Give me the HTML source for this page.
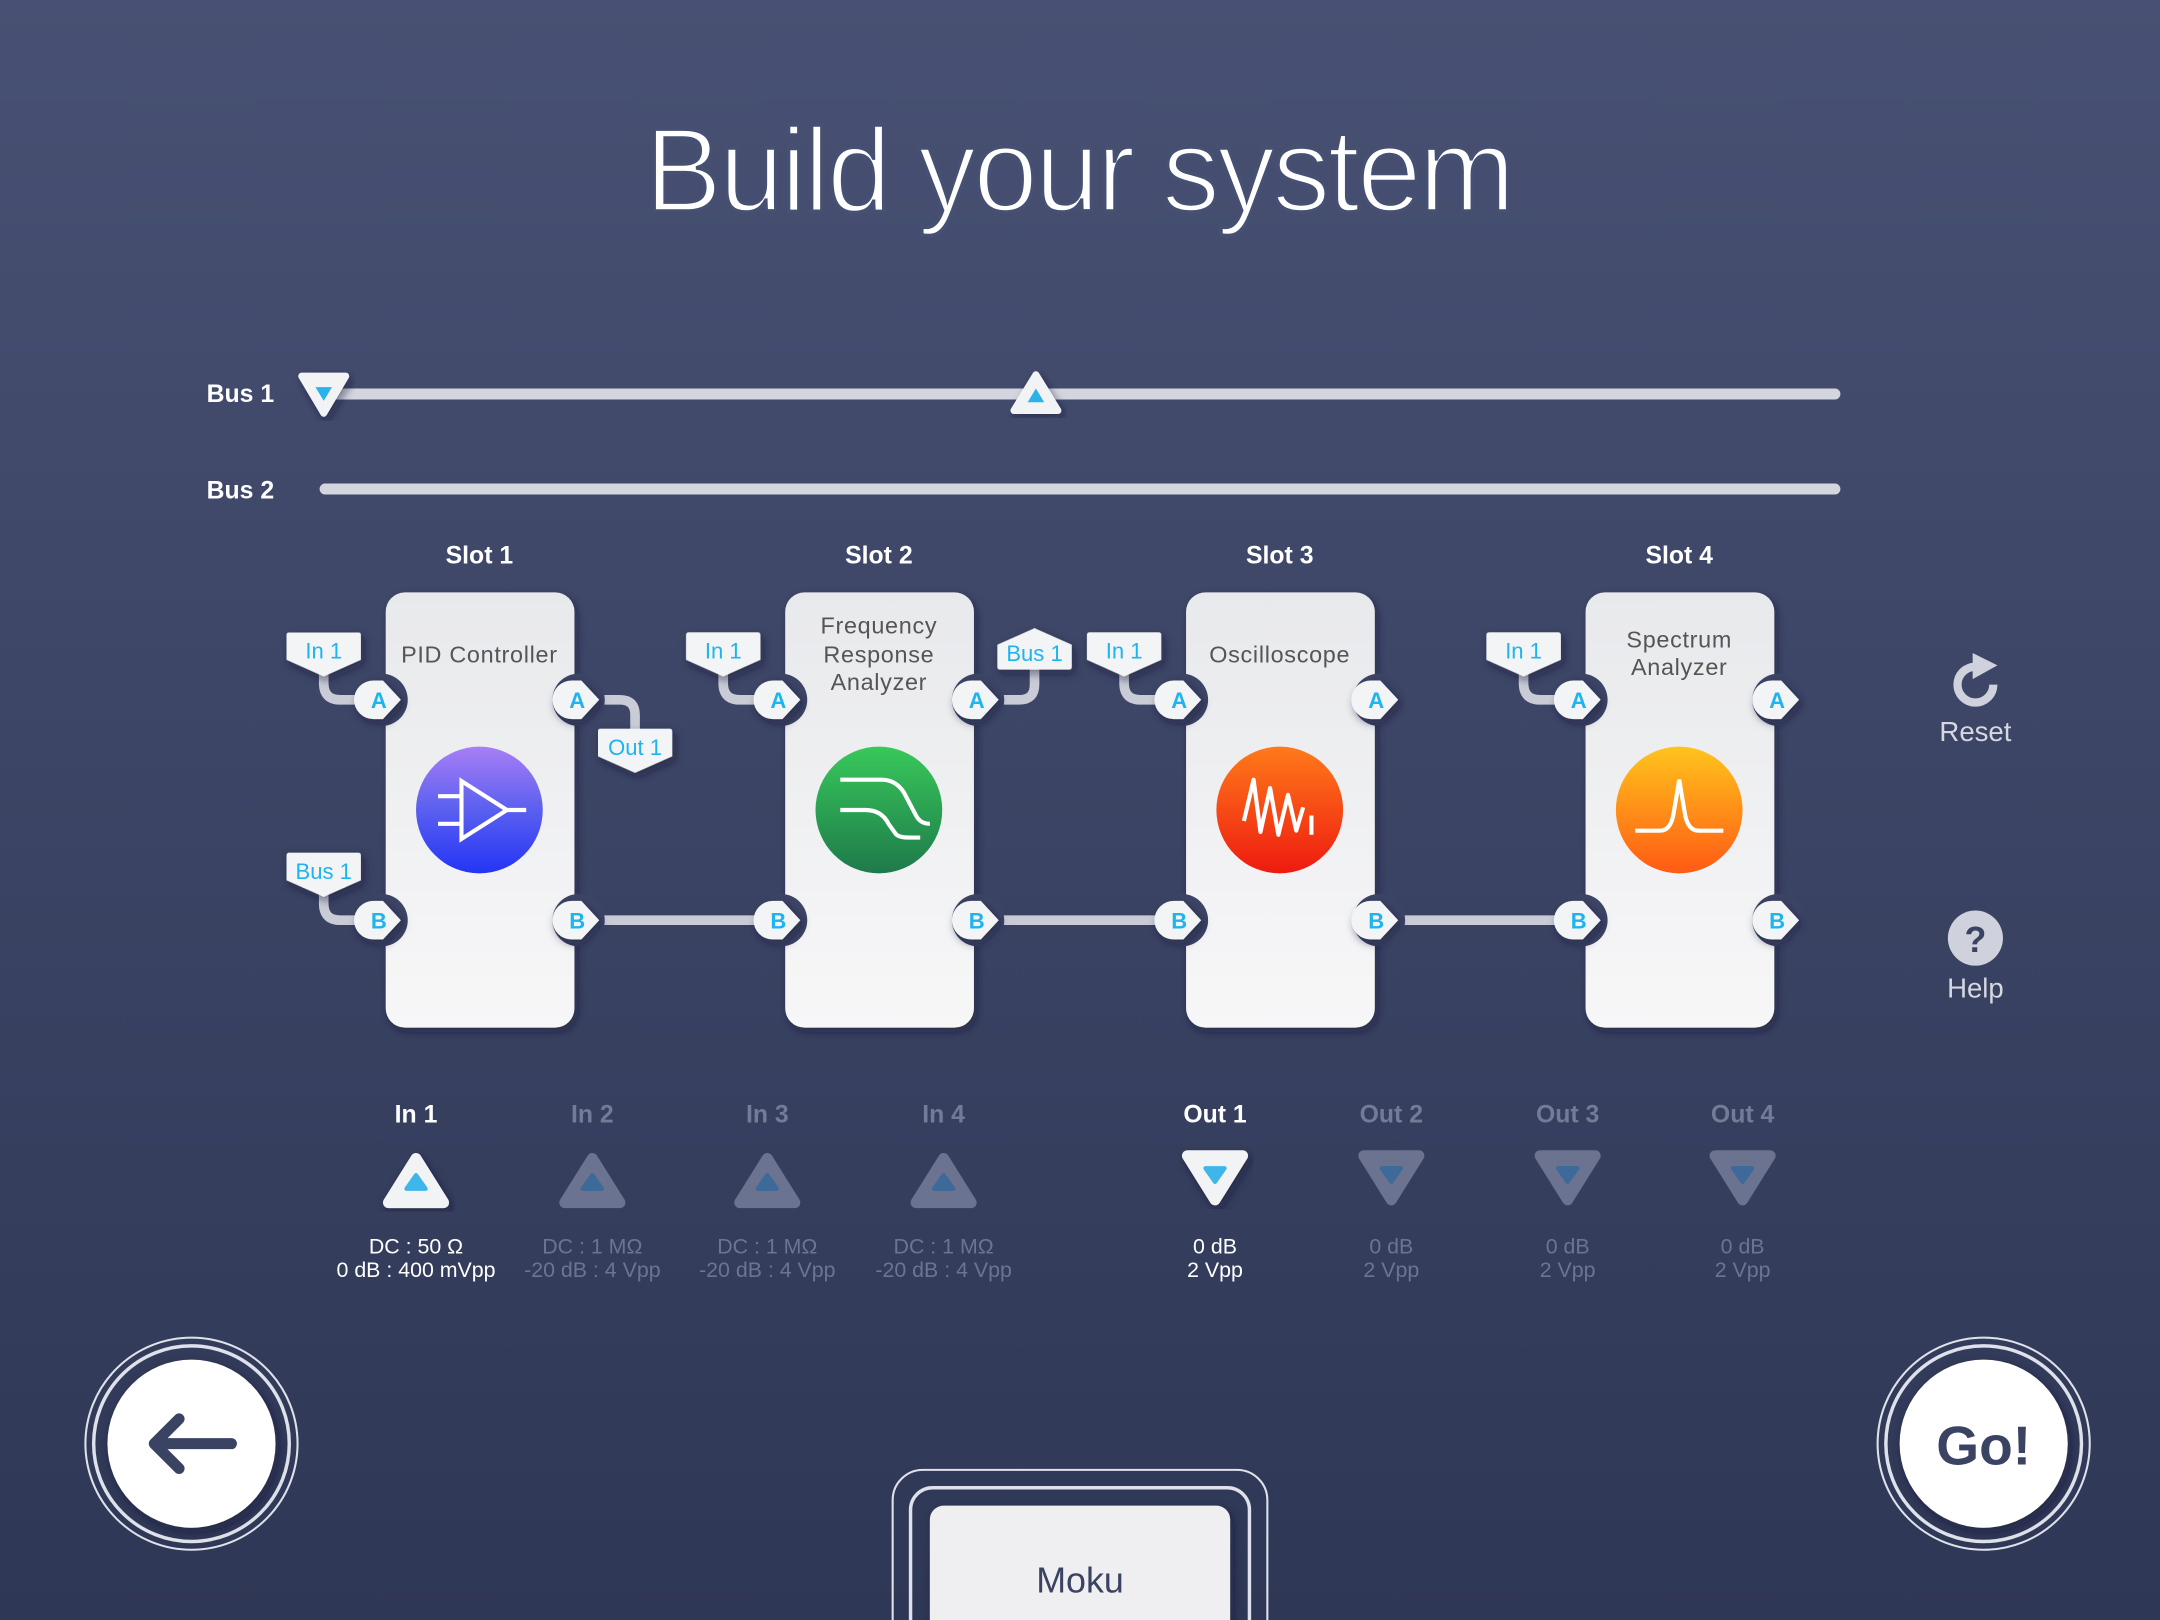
<!DOCTYPE html>
<html><head><meta charset="utf-8"><style>
html,body{margin:0;padding:0;width:2160px;height:1620px;overflow:hidden;background:#3d4565}
svg{display:block}
text{font-family:"Liberation Sans",sans-serif}
</style></head><body>
<svg width="2160" height="1620" viewBox="0 0 1568 1176" xmlns="http://www.w3.org/2000/svg">
<defs>
<linearGradient id="bg" x1="0" y1="0" x2="0" y2="1"><stop offset="0" stop-color="#485173"/><stop offset="1" stop-color="#2f3756"/></linearGradient>
<linearGradient id="card" x1="0" y1="0" x2="0" y2="1"><stop offset="0" stop-color="#e8e9ec"/><stop offset="1" stop-color="#f7f7f8"/></linearGradient>
<linearGradient id="g1" x1="0" y1="0" x2="0" y2="1"><stop offset="0" stop-color="#a77ef5"/><stop offset="0.5" stop-color="#5a5ff0"/><stop offset="1" stop-color="#2434f5"/></linearGradient>
<linearGradient id="g2" x1="0" y1="0" x2="0" y2="1"><stop offset="0" stop-color="#38c85a"/><stop offset="1" stop-color="#1e7a4a"/></linearGradient>
<linearGradient id="g3" x1="0" y1="0" x2="0" y2="1"><stop offset="0" stop-color="#ff7a1a"/><stop offset="1" stop-color="#ee1a10"/></linearGradient>
<linearGradient id="g4" x1="0" y1="0" x2="0" y2="1"><stop offset="0" stop-color="#ffc41c"/><stop offset="1" stop-color="#ff5a14"/></linearGradient>
<filter id="sh" x="-20%" y="-20%" width="140%" height="140%"><feDropShadow dx="2" dy="3" stdDeviation="3" flood-color="#121830" flood-opacity="0.5"/></filter>
<path id="port" d="M-4,-14 H3 L16,0 L3,14 H-4 A14,14 0 0 1 -4,-14 Z"/>
<path id="tagd" d="M-25,-13 H25 Q27,-13 27,-11 V7 L0,19 L-27,7 V-11 Q-27,-13 -25,-13 Z"/>
<path id="tagu" d="M-25,13 H25 Q27,13 27,11 V-5 L0,-17 L-27,-5 V11 Q-27,13 -25,13 Z"/>
</defs>
<rect width="1568" height="1176" fill="url(#bg)"/>
<text x="783" y="153" text-anchor="middle" font-size="86" fill="#fff" stroke="#465072" stroke-width="2.5" letter-spacing="-2" textLength="630" lengthAdjust="spacingAndGlyphs">Build your system</text>

<!-- buses -->
<text x="199" y="292" text-anchor="end" font-size="18" font-weight="bold" fill="#fff">Bus 1</text>
<text x="199" y="362" text-anchor="end" font-size="18" font-weight="bold" fill="#fff">Bus 2</text>
<rect x="232" y="282" width="1104" height="8" rx="4" fill="#d3d6de"/>
<rect x="232" y="351" width="1104" height="8" rx="4" fill="#d3d6de"/>
<path d="M219,273 H251 L235,300 Z" fill="#f2f3f5" stroke="#f2f3f5" stroke-width="5" stroke-linejoin="round" filter="url(#sh)"/>
<path d="M229,281 H241 L235,291 Z" fill="#2ab3ea"/>
<path d="M736,298 H768 L752,272 Z" fill="#f2f3f5" stroke="#f2f3f5" stroke-width="5" stroke-linejoin="round" filter="url(#sh)"/>
<path d="M746,292 H758 L752,282 Z" fill="#2ab3ea"/>

<!-- slot labels -->
<g font-size="18" font-weight="bold" fill="#fff" text-anchor="middle">
<text x="348" y="409">Slot 1</text><text x="638" y="409">Slot 2</text><text x="929" y="409">Slot 3</text><text x="1219" y="409">Slot 4</text>
</g>

<!-- connectors -->
<g stroke="#c9ccd6" stroke-width="7" fill="none" stroke-linecap="round">
<path d="M419,668 H565"/><path d="M709,668 H856"/><path d="M999,668 H1146"/>
<path d="M235,488 V496 Q235,508 247,508 H268"/>
<path d="M235,648 V656 Q235,668 247,668 H268"/>
<path d="M425,508 H450 Q461,508 461,519 V530"/>
<path d="M525,488 V496 Q525,508 537,508 H558"/>
<path d="M715,508 H740 Q751,508 751,497 V486"/>
<path d="M816,488 V496 Q816,508 828,508 H849"/>
<path d="M1106,488 V496 Q1106,508 1118,508 H1139"/>
</g>

<!-- cards -->
<g filter="url(#sh)">
<rect x="280" y="430" width="137" height="316" rx="14" fill="url(#card)"/>
<rect x="570" y="430" width="137" height="316" rx="14" fill="url(#card)"/>
<rect x="861" y="430" width="137" height="316" rx="14" fill="url(#card)"/>
<rect x="1151" y="430" width="137" height="316" rx="14" fill="url(#card)"/>
</g>
<!-- notches -->
<g fill="#3c4465">
<circle cx="277" cy="508" r="19"/><circle cx="277" cy="668" r="19"/><circle cx="420" cy="508" r="19"/><circle cx="420" cy="668" r="19"/>
<circle cx="567" cy="508" r="19"/><circle cx="567" cy="668" r="19"/><circle cx="710" cy="508" r="19"/><circle cx="710" cy="668" r="19"/>
<circle cx="858" cy="508" r="19"/><circle cx="858" cy="668" r="19"/><circle cx="1001" cy="508" r="19"/><circle cx="1001" cy="668" r="19"/>
<circle cx="1148" cy="508" r="19"/><circle cx="1148" cy="668" r="19"/><circle cx="1291" cy="508" r="19"/><circle cx="1291" cy="668" r="19"/>
</g>
<!-- ports -->
<g fill="#f3f4f6" filter="url(#sh)">
<use href="#port" x="275" y="508"/><use href="#port" x="275" y="668"/><use href="#port" x="419" y="508"/><use href="#port" x="419" y="668"/>
<use href="#port" x="565" y="508"/><use href="#port" x="565" y="668"/><use href="#port" x="709" y="508"/><use href="#port" x="709" y="668"/>
<use href="#port" x="856" y="508"/><use href="#port" x="856" y="668"/><use href="#port" x="999" y="508"/><use href="#port" x="999" y="668"/>
<use href="#port" x="1146" y="508"/><use href="#port" x="1146" y="668"/><use href="#port" x="1290" y="508"/><use href="#port" x="1290" y="668"/>
</g>
<g font-size="16" font-weight="bold" fill="#1eb4f0" text-anchor="middle">
<text x="275" y="514">A</text><text x="275" y="674">B</text><text x="419" y="514">A</text><text x="419" y="674">B</text>
<text x="565" y="514">A</text><text x="565" y="674">B</text><text x="709" y="514">A</text><text x="709" y="674">B</text>
<text x="856" y="514">A</text><text x="856" y="674">B</text><text x="999" y="514">A</text><text x="999" y="674">B</text>
<text x="1146" y="514">A</text><text x="1146" y="674">B</text><text x="1290" y="514">A</text><text x="1290" y="674">B</text>
</g>
<!-- tags -->
<g fill="#f3f4f6" filter="url(#sh)">
<use href="#tagd" x="235" y="472"/><use href="#tagd" x="235" y="632"/><use href="#tagd" x="461" y="542"/>
<use href="#tagd" x="525" y="472"/><use href="#tagu" x="751" y="473"/><use href="#tagd" x="816" y="472"/><use href="#tagd" x="1106" y="472"/>
</g>
<g font-size="16" fill="#1eb4f0" text-anchor="middle">
<text x="235" y="478">In 1</text><text x="235" y="638">Bus 1</text><text x="461" y="548">Out 1</text>
<text x="525" y="478">In 1</text><text x="751" y="480">Bus 1</text><text x="816" y="478">In 1</text><text x="1106" y="478">In 1</text>
</g>
<!-- card titles -->
<g font-size="17" fill="#555" text-anchor="middle" letter-spacing="0.5">
<text x="348" y="481">PID Controller</text>
<text x="638" y="460">Frequency</text><text x="638" y="481">Response</text><text x="638" y="501">Analyzer</text>
<text x="929" y="481">Oscilloscope</text>
<text x="1219" y="470">Spectrum</text><text x="1219" y="490">Analyzer</text>
</g>
<!-- icons -->
<circle cx="348" cy="588" r="46" fill="url(#g1)"/>
<g stroke="#fff" stroke-width="3" fill="none"><path d="M335,567 V609 L368,588 Z"/><path d="M318,578 H335 M318,598 H335 M368,588 H382"/></g>
<circle cx="638" cy="588" r="46" fill="url(#g2)"/>
<path d="M610,566 H640 Q650,566 656,575 L665,592 Q668,598 675,598 M610,588 H628 Q640,588 645,598 L650,605 Q652,608 660,608 H668" stroke="#fff" stroke-width="3" fill="none"/>
<circle cx="929" cy="588" r="46" fill="url(#g3)"/>
<path d="M903,596 L910,566 L915,604 L922,572 L928,606 L935,577 L941,603 L946,586 M952,592 V606" stroke="#fff" stroke-width="3" fill="none" stroke-linejoin="round"/>
<circle cx="1219" cy="588" r="46" fill="url(#g4)"/>
<path d="M1187,603 H1205 Q1213,603 1215,590 L1219,566 L1223,590 Q1225,603 1233,603 H1251" stroke="#fff" stroke-width="3" fill="none"/>

<!-- reset / help -->
<path d="M1434,484 A13,13 0 1 0 1447,497" stroke="#cfd2dc" stroke-width="6" fill="none"/>
<path d="M1432,474 L1450,483 L1432,493 Z" fill="#cfd2dc"/>
<text x="1434" y="538" text-anchor="middle" font-size="20" fill="#d5d8e0">Reset</text>
<circle cx="1434" cy="681" r="20" fill="#cfd2dc"/>
<text x="1434" y="691" text-anchor="middle" font-size="26" font-weight="bold" fill="#3b4363">?</text>
<text x="1434" y="724" text-anchor="middle" font-size="20" fill="#d5d8e0">Help</text>

<!-- IO -->
<g font-size="18" font-weight="bold" text-anchor="middle">
<text x="302" y="815" fill="#fff">In 1</text><text x="430" y="815" fill="#737b96">In 2</text><text x="557" y="815" fill="#737b96">In 3</text><text x="685" y="815" fill="#737b96">In 4</text>
<text x="882" y="815" fill="#fff">Out 1</text><text x="1010" y="815" fill="#737b96">Out 2</text><text x="1138" y="815" fill="#737b96">Out 3</text><text x="1265" y="815" fill="#737b96">Out 4</text>
</g>
<g stroke-linejoin="round" stroke-width="8">
<path d="M302,841 L322,873 H282 Z" fill="#f2f3f5" stroke="#f2f3f5" filter="url(#sh)"/>
<path d="M430,841 L450,873 H410 Z" fill="#6b7391" stroke="#6b7391"/>
<path d="M557,841 L577,873 H537 Z" fill="#6b7391" stroke="#6b7391"/>
<path d="M685,841 L705,873 H665 Z" fill="#6b7391" stroke="#6b7391"/>
<path d="M862,839 H902 L882,871 Z" fill="#f2f3f5" stroke="#f2f3f5" filter="url(#sh)"/>
<path d="M990,839 H1030 L1010,871 Z" fill="#6b7391" stroke="#6b7391"/>
<path d="M1118,839 H1158 L1138,871 Z" fill="#6b7391" stroke="#6b7391"/>
<path d="M1245,839 H1285 L1265,871 Z" fill="#6b7391" stroke="#6b7391"/>
</g>
<g stroke-linejoin="round" stroke-width="3">
<path d="M302,853 L309,863 H295 Z" fill="#3fb5ea" stroke="#3fb5ea"/>
<path d="M430,853 L437,863 H423 Z" fill="#3d6a98" stroke="#3d6a98"/>
<path d="M557,853 L564,863 H550 Z" fill="#3d6a98" stroke="#3d6a98"/>
<path d="M685,853 L692,863 H678 Z" fill="#3d6a98" stroke="#3d6a98"/>
<path d="M875,848 H889 L882,858 Z" fill="#3fb5ea" stroke="#3fb5ea"/>
<path d="M1003,848 H1017 L1010,858 Z" fill="#3d6a98" stroke="#3d6a98"/>
<path d="M1131,848 H1145 L1138,858 Z" fill="#3d6a98" stroke="#3d6a98"/>
<path d="M1258,848 H1272 L1265,858 Z" fill="#3d6a98" stroke="#3d6a98"/>
</g>
<g font-size="15.5" text-anchor="middle" fill="#6c7491">
<text x="302" y="910" fill="#fff">DC : 50 Ω</text><text x="302" y="927" fill="#fff">0 dB : 400 mVpp</text>
<text x="430" y="910">DC : 1 MΩ</text><text x="430" y="927">-20 dB : 4 Vpp</text>
<text x="557" y="910">DC : 1 MΩ</text><text x="557" y="927">-20 dB : 4 Vpp</text>
<text x="685" y="910">DC : 1 MΩ</text><text x="685" y="927">-20 dB : 4 Vpp</text>
<text x="882" y="910" fill="#fff">0 dB</text><text x="882" y="927" fill="#fff">2 Vpp</text>
<text x="1010" y="910">0 dB</text><text x="1010" y="927">2 Vpp</text>
<text x="1138" y="910">0 dB</text><text x="1138" y="927">2 Vpp</text>
<text x="1265" y="910">0 dB</text><text x="1265" y="927">2 Vpp</text>
</g>

<!-- buttons -->
<circle cx="139" cy="1048" r="77" fill="none" stroke="#dfe2ea" stroke-width="1.5"/>
<circle cx="139" cy="1048" r="71" fill="none" stroke="#dfe2ea" stroke-width="2.5"/>
<circle cx="139" cy="1048" r="61" fill="#fff" filter="url(#sh)"/>
<path d="M168,1048 H112 M130,1030 L112,1048 L130,1066" stroke="#3b4363" stroke-width="8" fill="none" stroke-linecap="round" stroke-linejoin="round"/>
<circle cx="1440" cy="1048" r="77" fill="none" stroke="#dfe2ea" stroke-width="1.5"/>
<circle cx="1440" cy="1048" r="71" fill="none" stroke="#dfe2ea" stroke-width="2.5"/>
<circle cx="1440" cy="1048" r="61" fill="#fff" filter="url(#sh)"/>
<text x="1440" y="1063" text-anchor="middle" font-size="40" font-weight="bold" fill="#3b4363">Go!</text>

<!-- Moku -->
<rect x="648" y="1067" width="272" height="130" rx="22" fill="none" stroke="#dfe2ea" stroke-width="1.5"/>
<rect x="661" y="1080" width="246" height="120" rx="16" fill="none" stroke="#dfe2ea" stroke-width="2.5"/>
<rect x="675" y="1093" width="218" height="110" rx="10" fill="#efeff1" filter="url(#sh)"/>
<text x="784" y="1156" text-anchor="middle" font-size="26" fill="#3b4363">Moku</text>
</svg>
</body></html>
